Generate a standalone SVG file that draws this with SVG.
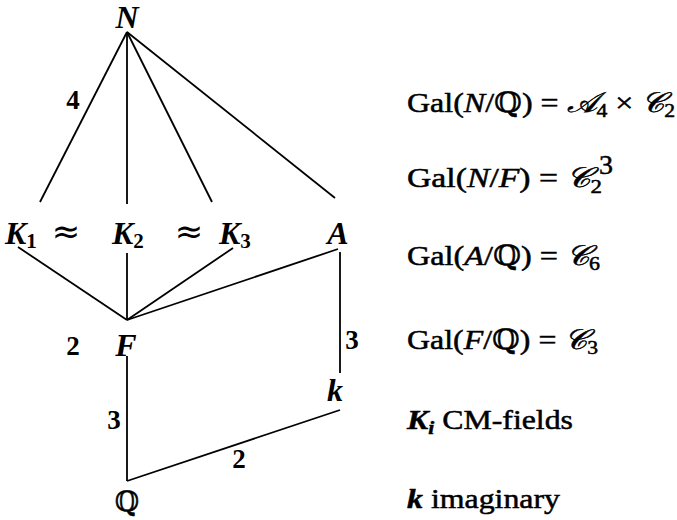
<svg xmlns="http://www.w3.org/2000/svg" width="677" height="520" viewBox="0 0 677 520">
<style>
.e{stroke:#000;stroke-width:1.8;fill:none}
.n{font-family:"Liberation Serif","DejaVu Serif",serif;font-size:32px;font-style:italic;font-weight:bold;fill:#000}
.s{font-size:21px;font-style:normal}
.l{font-family:"Liberation Serif","DejaVu Serif",serif;font-size:27px;font-weight:bold;fill:#000}
.t{font-family:"Liberation Serif","DejaVu Serif",serif;font-size:28px;fill:#000;stroke:#000;stroke-width:0.5}
.ap{font-family:"DejaVu Sans",sans-serif;font-size:34px;fill:#000}
.i{font-style:italic}
</style>
<rect width="677" height="520" fill="#fff"/>
<g id="connectors">
<line class="e" x1="127" y1="32" x2="40" y2="202"/>
<line class="e" x1="127" y1="32" x2="127" y2="204"/>
<line class="e" x1="127" y1="32" x2="212" y2="202"/>
<line class="e" x1="127" y1="32" x2="335" y2="198"/>
<line class="e" x1="18" y1="247" x2="127" y2="320"/>
<line class="e" x1="127" y1="253" x2="127" y2="320"/>
<line class="e" x1="233" y1="248" x2="127" y2="320"/>
<line class="e" x1="338" y1="249" x2="127" y2="320"/>
<line class="e" x1="340" y1="252" x2="340" y2="373"/>
<line class="e" x1="127" y1="356" x2="127" y2="481"/>
<line class="e" x1="127" y1="481" x2="340" y2="410"/>
<text class="l" x="73" y="109" text-anchor="middle">4</text>
<text class="l" x="73" y="355" text-anchor="middle">2</text>
<text class="l" x="352" y="349" text-anchor="middle">3</text>
<text class="l" x="114" y="429" text-anchor="middle">3</text>
<text class="l" x="239" y="468" text-anchor="middle">2</text>
</g>
<g id="N"><text class="n" x="127" y="28" text-anchor="middle">N</text></g>
<g id="K1"><text class="n" x="5" y="244">K<tspan class="s" dy="4">1</tspan></text></g>
<g id="approx1"><text class="ap" x="66" y="243" text-anchor="middle">≈</text></g>
<g id="K2"><text class="n" x="112" y="244">K<tspan class="s" dy="4">2</tspan></text></g>
<g id="approx2"><text class="ap" x="189" y="243" text-anchor="middle">≈</text></g>
<g id="K3"><text class="n" x="219" y="244">K<tspan class="s" dy="4">3</tspan></text></g>
<g id="A"><text class="n" x="338" y="244" text-anchor="middle">A</text></g>
<g id="F"><text class="n" x="126" y="356" text-anchor="middle">F</text></g>
<g id="k"><text class="n" x="335" y="401" text-anchor="middle">k</text></g>
<g id="Q"><text class="t" x="127" y="511" text-anchor="middle" font-size="30">ℚ</text></g>
<g id="legend">
<text class="t" x="407" y="112" textLength="268" lengthAdjust="spacingAndGlyphs">Gal(<tspan class="i">N</tspan>/ℚ) = <tspan class="i">𝒜</tspan><tspan font-size="19" dy="5">4</tspan><tspan dy="-5"> × </tspan><tspan class="i">𝒞</tspan><tspan font-size="19" dy="5">2</tspan></text>
<text class="t" x="407" y="187" textLength="195" lengthAdjust="spacingAndGlyphs">Gal(<tspan class="i">N</tspan>/<tspan class="i">F</tspan>) = <tspan class="i">𝒞</tspan><tspan font-size="19" dy="6">2</tspan></text>
<text class="t" x="599" y="174" font-size="17">3</text>
<text class="t" x="407" y="265" textLength="193" lengthAdjust="spacingAndGlyphs">Gal(<tspan class="i">A</tspan>/ℚ) = <tspan class="i">𝒞</tspan><tspan font-size="19" dy="5">6</tspan></text>
<text class="t" x="407" y="349" textLength="191" lengthAdjust="spacingAndGlyphs">Gal(<tspan class="i">F</tspan>/ℚ) = <tspan class="i">𝒞</tspan><tspan font-size="19" dy="5">3</tspan></text>
<text class="t" x="407" y="429" textLength="166" lengthAdjust="spacingAndGlyphs"><tspan class="i" font-weight="bold">K</tspan><tspan class="i" font-weight="bold" font-size="19" dy="5">i</tspan><tspan dy="-5"> CM-fields</tspan></text>
<text class="t" x="407" y="508" textLength="153" lengthAdjust="spacingAndGlyphs"><tspan class="i" font-weight="bold">k</tspan> imaginary</text>
</g>
</svg>
